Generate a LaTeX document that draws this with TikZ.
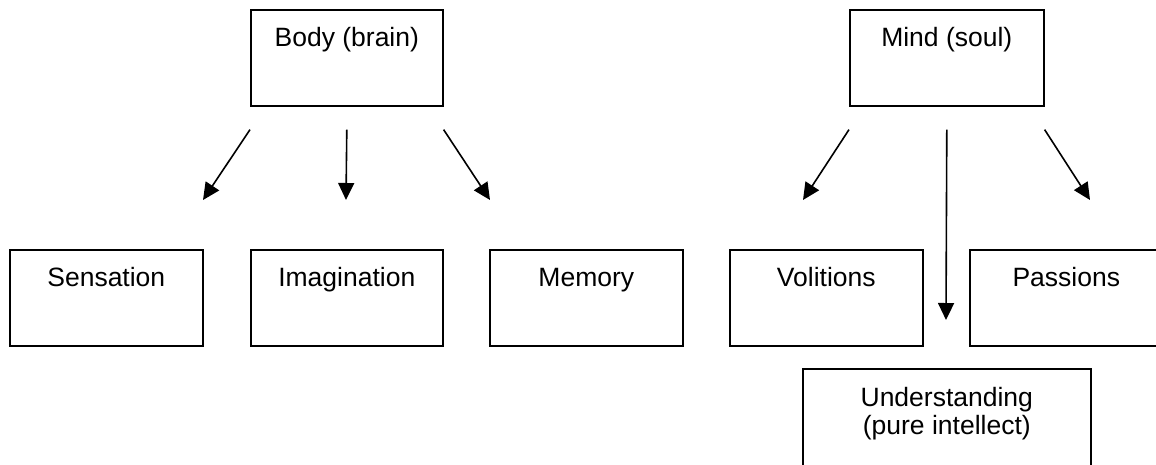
\documentclass[tikz,border=0pt]{standalone}
\usepackage{fontspec}
\setmainfont{Liberation Sans}
\usetikzlibrary{arrows.meta}
\tikzset{
  box/.style={draw, line width=1.6pt, minimum height=96pt, inner sep=0pt, anchor=north west},
  lbl/.style={anchor=base, inner sep=0pt, font=\fontsize{26.5}{28.5}\selectfont, align=center},
  arr/.style={line width=1.6pt, -{Triangle[length=17pt,width=16pt]}}
}
\begin{document}
\begin{tikzpicture}[x=1pt,y=-1pt]
\useasboundingbox (0,0) rectangle (1156,464);
\clip (0,0) rectangle (1156,464);
% boxes
\node[box, minimum width=192pt] (body) at (250,9) {};
\node[box, minimum width=194pt] (mind) at (849,9) {};
\node[box, minimum width=193pt] (sens) at (9,249) {};
\node[box, minimum width=192pt] (imag) at (250,249) {};
\node[box, minimum width=193pt] (mem) at (489,249) {};
\node[box, minimum width=193pt] (vol) at (729,249) {};
\node[box, minimum width=193pt] (pass) at (969,249) {};
\node[box, minimum width=288pt, minimum height=110pt] (und) at (802,368) {};
% labels
\node[lbl] (tbody) at ([yshift=-37pt]body.north) {Body (brain)};
\node[lbl] (tmind) at ([yshift=-37pt]mind.north) {Mind (soul)};
\node[lbl] (tsens) at ([yshift=-37pt]sens.north) {Sensation};
\node[lbl] (timag) at ([yshift=-37pt]imag.north) {Imagination};
\node[lbl] (tmem) at ([yshift=-37pt]mem.north) {Memory};
\node[lbl] (tvol) at ([yshift=-37pt]vol.north) {Volitions};
\node[lbl] (tpass) at ([yshift=-37pt]pass.north) {Passions};
\node[lbl, anchor=north] (tund) at ([yshift=-19pt]und.north) {Understanding\\(pure intellect)};
% arrow end points
\coordinate (b1) at ([yshift=-23pt]body.south west);
\coordinate (b2) at ([yshift=-23pt]body.south);
\coordinate (b3) at ([yshift=-23pt]body.south east);
\coordinate (m1) at ([yshift=-23pt]mind.south west);
\coordinate (m2) at ([yshift=-23pt]mind.south);
\coordinate (m3) at ([yshift=-23pt]mind.south east);
\coordinate (sensT) at (203,200);
\coordinate (imagT) at (346,200);
\coordinate (memT) at (490,200);
\coordinate (volT) at (803,200);
\coordinate (undT) at (946,320);
\coordinate (passT) at (1090,200);
\draw[arr] (b1) -- (sensT);
\draw[arr] (b2) -- (imagT);
\draw[arr] (b3) -- (memT);
\draw[arr] (m1) -- (volT);
\draw[arr] (m2) -- (undT);
\draw[arr] (m3) -- (passT);
\end{tikzpicture}
\end{document}
